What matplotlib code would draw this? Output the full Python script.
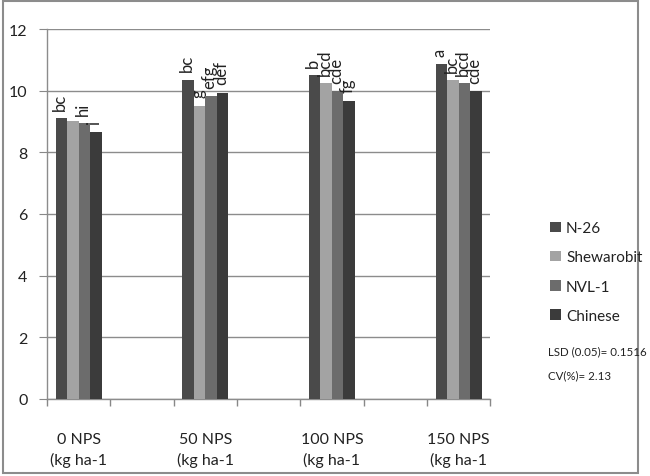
import matplotlib.pyplot as plt
import numpy as np
from matplotlib.patches import Rectangle

plt.rcParams['font.family'] = ['Lato', 'DejaVu Sans']

# x positions: 7 slots, only every other one holds a group of bars
slot_labels = ["0 NPS\n(kg ha-1", "", "50 NPS\n(kg ha-1", "", "100 NPS\n(kg ha-1", "",
               "150 NPS\n(kg ha-1"]
group_slots = [0, 2, 4, 6]

varieties = ["N-26", "Shewarobit", "NVL-1", "Chinese"]
n26 = [9.11, 10.36, 10.51, 10.87]
shewarobit = [9.02, 9.51, 10.25, 10.35]
nvl1 = [8.95, 9.83, 9.99, 10.25]
chinese = [8.66, 9.93, 9.67, 9.99]

letters_n26 = ["bc", "bc", "b", "a"]
letters_shewarobit = ["", "g", "bcd", "bc"]
letters_nvl1 = ["hi", "efg", "cde", "bcd"]
letters_chinese = ["i", "def", "fg", "cde"]

stats_lines = ["LSD (0.05)= 0.1516", "CV(%)= 2.13"]

colors = ["#4a4a4a", "#a3a3a3", "#6c6c6c", "#3b3b3b"]


def main():
    fig = plt.figure(figsize=(6.5, 4.77), dpi=100)
    ax = fig.add_axes([0.0723, 0.162, 0.682, 0.775])

    series = [n26, shewarobit, nvl1, chinese]
    letters = [letters_n26, letters_shewarobit, letters_nvl1, letters_chinese]
    w = 0.182
    x = np.array(group_slots, dtype=float)
    for i, (vals, labs) in enumerate(zip(series, letters)):
        xs = x + (i - 1.5) * w
        ax.bar(xs, vals, width=w, color=colors[i], label=varieties[i], zorder=3)
        for xi, v, lab in zip(xs, vals, labs):
            ax.annotate(lab, (xi, v), xytext=(-1, 6), textcoords="offset points",
                        rotation=90, ha="center", va="bottom", fontsize=12,
                        color="#222222")

    ax.set_xlim(-0.5, 6.5)
    ax.set_ylim(0, 12)
    ax.set_yticks(range(0, 13, 2))
    ax.set_xticks(range(7))
    ax.set_xticklabels(slot_labels, fontsize=11.5, color="#222222", linespacing=1.45)
    ax.set_xticks(np.arange(-0.5, 7, 1), minor=True)
    ax.tick_params(axis="x", which="major", length=0, pad=24)
    ax.tick_params(axis="x", which="minor", length=5, color="#888888", width=1)
    ax.tick_params(axis="y", length=6, color="#888888", labelsize=11.5,
                   labelcolor="#222222", pad=8)
    ax.yaxis.grid(True, color="#8c8c8c", lw=1, zorder=0)
    for s in ["top", "right"]:
        ax.spines[s].set_visible(False)
    for s in ["left", "bottom"]:
        ax.spines[s].set_color("#8c8c8c")
        ax.spines[s].set_linewidth(1)

    fig.legend(loc="upper left", bbox_to_anchor=(0.825, 0.563), frameon=False,
               fontsize=11, handlelength=0.7, handleheight=0.7, handletextpad=0.35,
               labelspacing=1.0, labelcolor="#222222")

    # statistics note, shrunk until it fits inside the figure
    texts = [fig.text(0.843, y, s, fontsize=10.5, color="#222222", va="center")
             for s, y in zip(stats_lines, [0.262, 0.212])]
    renderer = fig.canvas.get_renderer()
    limit = fig.bbox.width * 0.997
    size = 10.5
    while size > 6 and max(t.get_window_extent(renderer).x1 for t in texts) > limit:
        size -= 0.25
        for t in texts:
            t.set_fontsize(size)

    fig.patches.append(Rectangle((0.005, 0.006), 0.976, 0.99, transform=fig.transFigure,
                                 fill=False, edgecolor="#8c8c8c", lw=1.5))

    plt.savefig("out.png", dpi=100)


if __name__ == "__main__":
    main()
